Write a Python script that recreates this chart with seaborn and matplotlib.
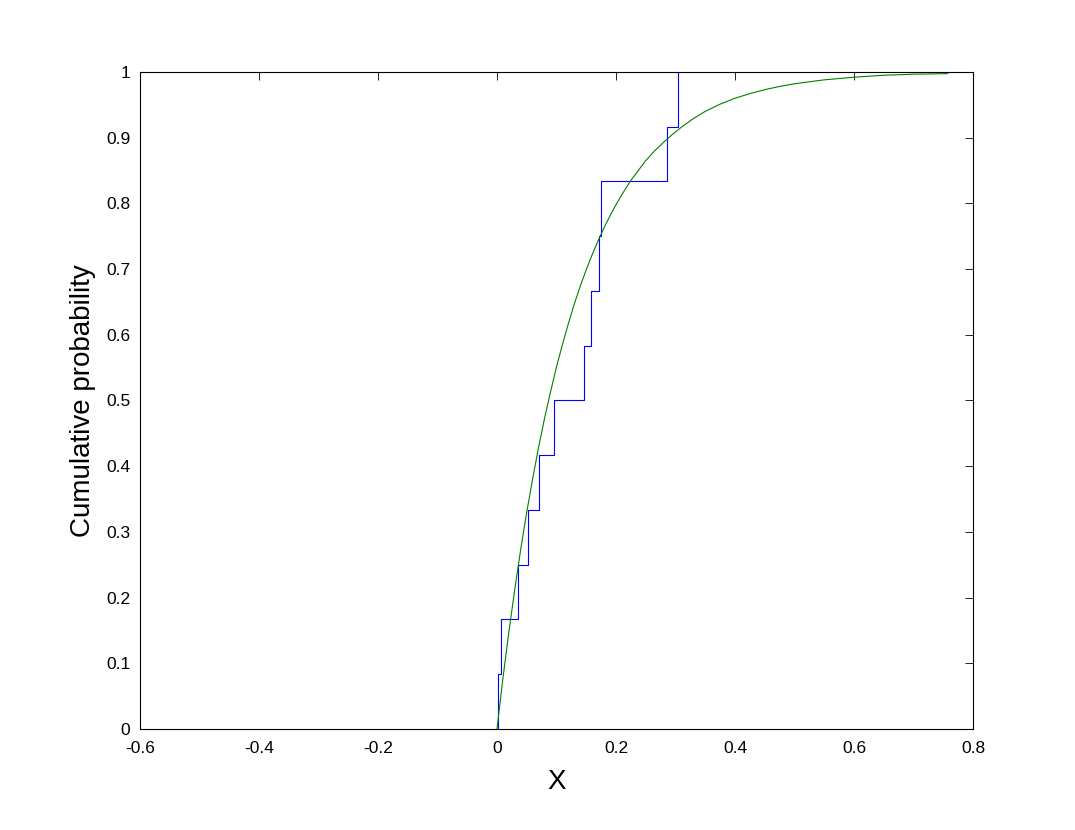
import numpy as np
import pandas as pd
import seaborn as sns
import matplotlib
matplotlib.use('Agg')
import matplotlib.pyplot as plt
from matplotlib.ticker import FormatStrFormatter

# sample values (12 points) read from the step positions
sample = [0.001, 0.0072, 0.0358, 0.0526, 0.0706, 0.0953,
          0.1467, 0.1575, 0.1714, 0.1753, 0.2852, 0.3047]

# fitted CDF curve
fit_x = [0.0, 0.01, 0.02, 0.03, 0.04, 0.05, 0.06, 0.07, 0.08, 0.09, 0.10,
         0.11, 0.12, 0.13, 0.14, 0.15, 0.16, 0.17, 0.18, 0.19, 0.20,
         0.2125, 0.225, 0.2375, 0.25, 0.265, 0.28, 0.295, 0.31, 0.33, 0.35,
         0.375, 0.40, 0.425, 0.45, 0.475, 0.50, 0.55, 0.60, 0.65, 0.70, 0.758]
fit_y = [0.0, 0.077, 0.148, 0.213, 0.274, 0.330, 0.381, 0.429, 0.473, 0.513, 0.551,
         0.585, 0.617, 0.647, 0.674, 0.699, 0.722, 0.743, 0.763, 0.781, 0.798,
         0.817, 0.835, 0.850, 0.865, 0.880, 0.893, 0.905, 0.916, 0.929, 0.940,
         0.951, 0.960, 0.967, 0.973, 0.978, 0.982, 0.988, 0.992, 0.995, 0.9966, 0.9975]

x_ticks = [-0.6, -0.4, -0.2, 0, 0.2, 0.4, 0.6, 0.8]
y_ticks = [0, 0.1, 0.2, 0.3, 0.4, 0.5, 0.6, 0.7, 0.8, 0.9, 1]

sns.set_style('white')
plt.rcParams['font.family'] = ['Liberation Sans', 'DejaVu Sans']
plt.rcParams['axes.unicode_minus'] = False
plt.rcParams['text.color'] = 'black'
plt.rcParams['axes.labelcolor'] = 'black'

fig = plt.figure(figsize=(10.75, 8.3), dpi=100)
ax = fig.add_axes([0.1302, 0.1217, 0.7749, 0.7916])

sns.ecdfplot(x=sample, color='#0000ff', linewidth=0.8, ax=ax)
sns.lineplot(x=fit_x, y=fit_y, color='#008000', linewidth=0.8, ax=ax)

ax.set_xlim(-0.6, 0.8)
ax.set_ylim(0, 1)
ax.set_xticks(x_ticks)
ax.set_yticks(y_ticks)
ax.xaxis.set_major_formatter(FormatStrFormatter('%g'))
ax.yaxis.set_major_formatter(FormatStrFormatter('%g'))
ax.tick_params(direction='in', length=6, width=0.6, colors='black',
               labelsize=12.5, top=True, right=True)
ax.tick_params(axis='x', pad=9)
ax.tick_params(axis='y', pad=7)
for s in ax.spines.values():
    s.set_color('black')
    s.set_linewidth(0.8)

ax.set_xlabel('X', fontsize=20, labelpad=9, color='black')
ax.set_ylabel('Cumulative probability', fontsize=20, labelpad=7, color='black')

fig.savefig('out.png', dpi=100)
